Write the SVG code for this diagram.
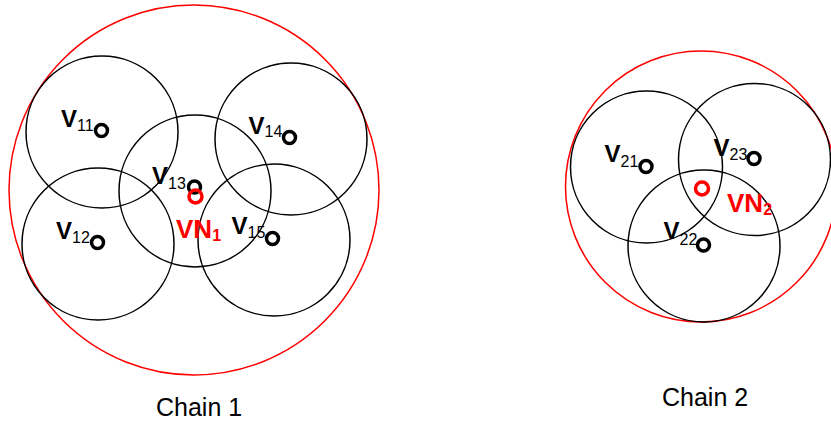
<svg xmlns="http://www.w3.org/2000/svg" width="831" height="424" viewBox="0 0 831 424">
<style>
.bound{fill:none;stroke:#ff0000;stroke-width:1.5}
.range{fill:none;stroke:#000;stroke-width:1.5}
.dot{fill:none;stroke:#000;stroke-width:3.5}
.vdot{fill:none;stroke:#ff0000;stroke-width:3.5}
.lbl{font-family:"Liberation Sans",Arial,sans-serif;font-weight:bold;font-size:24px;fill:#000}
.sub{font-size:16px;font-weight:normal}
.vn{fill:#ff0000;font-size:26px}
.vn .sub{font-weight:bold;font-size:16px}
.cap{font-family:"Liberation Sans",Arial,sans-serif;font-size:25px;fill:#000}
</style>
<rect width="831" height="424" fill="#fff"/>
<g id="chain1">
<circle class="bound" cx="194" cy="190" r="185"/>
<g id="v11"><circle class="range" cx="102" cy="132" r="76"/><circle class="dot" cx="101.5" cy="130.5" r="6"/><text class="lbl" x="61" y="127">V<tspan class="sub" dy="4">11</tspan></text></g>
<g id="v12"><circle class="range" cx="98" cy="244" r="76"/><circle class="dot" cx="97.5" cy="242.5" r="6"/><text class="lbl" x="56" y="238.5">V<tspan class="sub" dy="4">12</tspan></text></g>
<g id="v13"><circle class="range" cx="195" cy="191" r="76"/><circle class="dot" cx="194.5" cy="187" r="6"/><text class="lbl" x="152" y="183.5">V<tspan class="sub" dy="5">13</tspan></text></g>
<g id="v14"><circle class="range" cx="291" cy="139" r="76"/><circle class="dot" cx="289.5" cy="137.5" r="6"/><text class="lbl" x="248.5" y="133.5">V<tspan class="sub" dy="3.5">14</tspan></text></g>
<g id="v15"><circle class="range" cx="274" cy="240" r="76"/><circle class="dot" cx="272.5" cy="238.5" r="6"/><text class="lbl" x="231.5" y="233.5">V<tspan class="sub" dy="4">15</tspan></text></g>
<g id="vn1"><circle class="vdot" cx="195.5" cy="196.5" r="6.5"/><text class="lbl vn" x="176" y="238">VN<tspan class="sub" dy="3">1</tspan></text></g>
<text class="cap" x="156" y="416">Chain 1</text>
</g>
<g id="chain2">
<circle class="bound" cx="701" cy="186.5" r="135.5"/>
<g id="v21"><circle class="range" cx="646.5" cy="167" r="76"/><circle class="dot" cx="646" cy="166.5" r="6"/><text class="lbl" x="604.5" y="162">V<tspan class="sub" dy="4.5">21</tspan></text></g>
<g id="v23"><circle class="range" cx="754.5" cy="159.5" r="76"/><circle class="dot" cx="754" cy="158.5" r="6"/><text class="lbl" x="713.5" y="156">V<tspan class="sub" dy="3.5">23</tspan></text></g>
<g id="v22"><circle class="range" cx="704" cy="246" r="76"/><circle class="dot" cx="703.5" cy="245" r="6"/><text class="lbl" x="663.5" y="238.5">V<tspan class="sub" dy="6">22</tspan></text></g>
<g id="vn2"><circle class="vdot" cx="702" cy="188.5" r="6.5"/><text class="lbl vn" x="727" y="212">VN<tspan class="sub" dy="3">2</tspan></text></g>
<text class="cap" x="662" y="406">Chain 2</text>
</g>
</svg>
